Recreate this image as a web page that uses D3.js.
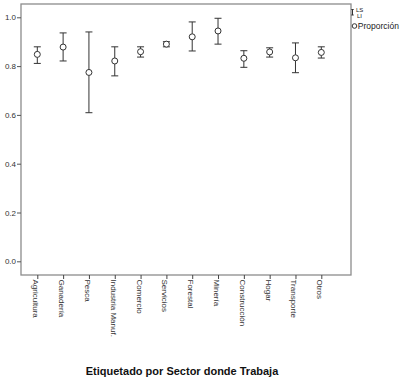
<html>
  <head>
    <meta charset="utf-8" />
    <script src="https://d3js.org/d3.v7.min.js"></script>
    <style>
      body { margin: 0; background: #fff; }
      text { font-family: "Liberation Sans", Arial, sans-serif; }
    </style>
  </head>
  <body>
    <div class="container"></div>
  </body>
</html>

<script>
  const sectors = ["Agricultura", "Ganadería", "Pesca", "Industria Manuf.", "Comercio", "Servicios",
    "Forestal", "Minería", "Construcción", "Hogar", "Transporte", "Otros"];
  const proporcion = [0.848, 0.878, 0.774, 0.821, 0.859, 0.890, 0.920, 0.944, 0.832, 0.858, 0.834, 0.856];
  const ls = [0.879, 0.936, 0.940, 0.879, 0.879, 0.900, 0.981, 0.996, 0.863, 0.875, 0.895, 0.879];
  const li = [0.811, 0.821, 0.609, 0.760, 0.837, 0.879, 0.862, 0.890, 0.795, 0.837, 0.773, 0.833];
  const yTicks = [0, 0.2, 0.4, 0.6, 0.8, 1.0];

  const width = 401, height = 385;
  const frame = { left: 21, right: 351, top: 4, bottom: 275 };

  const svg = d3.select(".container")
    .append("svg")
    .attr("width", width)
    .attr("height", height);

  const x = d3.scalePoint().domain(sectors).range([37.3, 321.3]);
  const y = d3.scaleLinear().domain([0, 1]).range([261.3, 17.3]);

  // plot frame
  svg.append("rect")
    .attr("x", frame.left)
    .attr("y", frame.top)
    .attr("width", frame.right - frame.left)
    .attr("height", frame.bottom - frame.top)
    .attr("fill", "none")
    .attr("stroke", "#8c8c8c")
    .attr("stroke-width", 1.3);

  // y axis
  const yAxis = svg.append("g")
    .attr("transform", `translate(${frame.left},0)`)
    .call(d3.axisLeft(y).tickValues(yTicks).tickFormat(d3.format(".1f")).tickSize(4).tickPadding(1));
  yAxis.select(".domain").remove();
  yAxis.selectAll("line").attr("stroke", "#555");
  yAxis.selectAll("text").attr("font-size", 8).attr("fill", "#333").attr("font-family", "Liberation Sans, Arial, sans-serif");

  // x axis
  const xAxis = svg.append("g")
    .attr("transform", `translate(0,${frame.bottom})`)
    .call(d3.axisBottom(x).tickSize(4).tickFormat(""));
  xAxis.select(".domain").remove();
  xAxis.selectAll("line").attr("stroke", "#444");

  svg.append("g")
    .selectAll("text")
    .data(sectors)
    .join("text")
    .attr("transform", (d) => `translate(${x(d)},${frame.bottom + 4.5}) rotate(90)`)
    .attr("dy", "0.5em")
    .attr("font-size", 8)
    .attr("fill", "#333")
    .text((d) => d);

  // error bars
  const bars = svg.append("g")
    .attr("stroke", "#333")
    .attr("stroke-width", 1)
    .attr("fill", "none")
    .selectAll("g")
    .data(sectors)
    .join("g");

  bars.append("line")
    .attr("x1", (d) => x(d)).attr("x2", (d) => x(d))
    .attr("y1", (d, i) => y(ls[i])).attr("y2", (d, i) => y(li[i]));
  bars.append("line")
    .attr("x1", (d) => x(d) - 3.5).attr("x2", (d) => x(d) + 3.5)
    .attr("y1", (d, i) => y(ls[i])).attr("y2", (d, i) => y(ls[i]));
  bars.append("line")
    .attr("x1", (d) => x(d) - 3.5).attr("x2", (d) => x(d) + 3.5)
    .attr("y1", (d, i) => y(li[i])).attr("y2", (d, i) => y(li[i]));
  bars.append("circle")
    .attr("cx", (d) => x(d))
    .attr("cy", (d, i) => y(proporcion[i]))
    .attr("r", 3)
    .attr("fill", "#fff");

  // legend
  const lg = svg.append("g").attr("stroke", "#333").attr("stroke-width", 1);
  lg.append("line").attr("x1", 352.5).attr("x2", 352.5).attr("y1", 9.5).attr("y2", 15);
  lg.append("line").attr("x1", 351.3).attr("x2", 353.7).attr("y1", 9.5).attr("y2", 9.5);
  lg.append("line").attr("x1", 351.3).attr("x2", 353.7).attr("y1", 15).attr("y2", 15);
  lg.append("circle").attr("cx", 354.5).attr("cy", 26).attr("r", 2.3).attr("fill", "#fff");

  svg.append("text").attr("x", 356).attr("y", 12).attr("font-size", 6).attr("fill", "#222").text("LS");
  svg.append("text").attr("x", 357).attr("y", 18.2).attr("font-size", 6).attr("fill", "#222").text("LI");
  svg.append("text").attr("x", 357.8).attr("y", 29).attr("font-size", 8.5).attr("fill", "#222").text("Proporción");

  // title
  svg.append("text")
    .attr("x", 182)
    .attr("y", 375)
    .attr("text-anchor", "middle")
    .attr("font-size", 11)
    .attr("font-weight", "bold")
    .attr("fill", "#111")
    .text("Etiquetado por Sector donde Trabaja");
</script>
